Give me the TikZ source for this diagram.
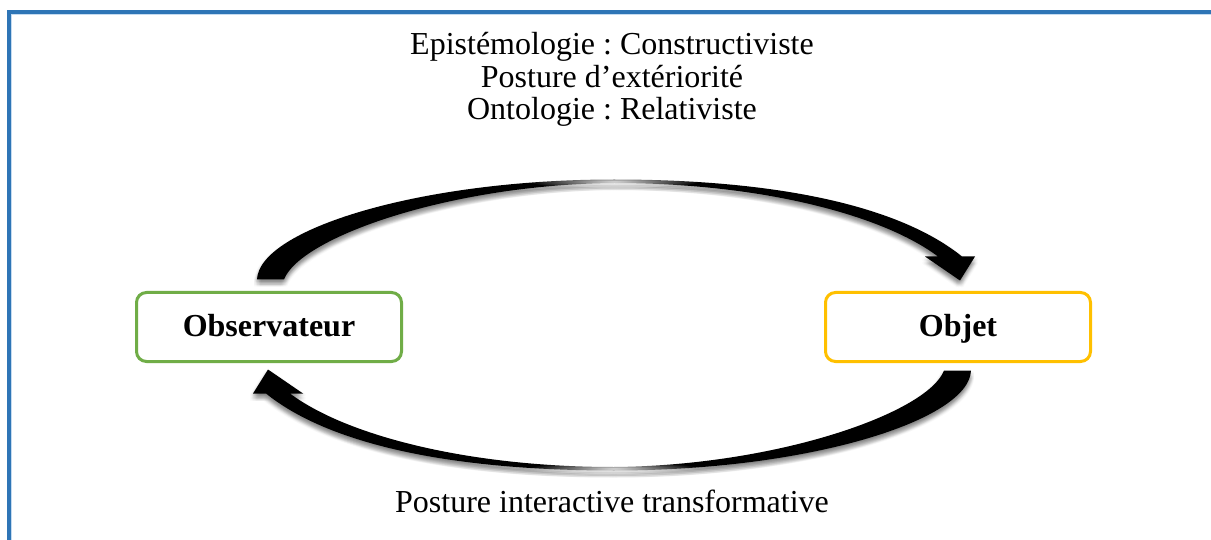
\documentclass[tikz,border=0pt]{standalone}
\usepackage{fontspec}
\setmainfont{Liberation Serif}
\usetikzlibrary{calc,fadings}
\definecolor{frameblue}{HTML}{2E75B6}
\definecolor{framelight}{HTML}{C5DBF0}
\definecolor{obsgreen}{HTML}{70AD47}
\definecolor{objorange}{HTML}{FFC000}
\tikzfading[name=midglow, inner color=transparent!0, outer color=transparent!100]
% outline of one curved arrow, tail centre at the origin
\newcommand\arrowfill[1]{%
  \fill[#1]
    (-13,0) .. controls (-11,-50) and (150,-100) .. (344,-100)
    .. controls (510,-100) and (630,-73) .. (692,-23)
    -- (705,-23) -- (690,1) -- (655,-23) -- (668,-23)
    .. controls (612,-65) and (490,-96.5) .. (344,-96.5)
    .. controls (180,-95) and (30,-42) .. (14,0) -- cycle;}
\begin{document}
\frenchspacing
\begin{tikzpicture}[x=1pt,y=-1pt,
  every node/.style={inner sep=0pt, outer sep=0pt},
  caption/.style={font=\fontsize{32}{32}\selectfont, anchor=base},
  box/.style={draw, line width=3pt, rounded corners=10pt,
    minimum width=265pt, minimum height=69pt, text height=24pt, text depth=4pt,
    font=\fontsize{32}{32}\selectfont\bfseries},
  arrowbody/.pic={
    \arrowfill{black}
    \fill[white, opacity=0.85, path fading=midglow] (344,-98) ellipse (85 and 7);
  },
  arrowshadow/.pic={
    \foreach \dx in {-3,-1.5,0,1.5,3}
      \foreach \dy in {-3,-1.5,0,1.5,3}
        {\arrowfill{black, opacity=0.025, shift={(\dx,\dy)}}}
  },
]
\useasboundingbox (0,0) rectangle (1211,540);
\fill[white] (0,0) rectangle (1211,540);
% page frame, top and left edges
\draw[frameblue, line width=4pt] (9,540) -- (9,12) -- (1211,12);
\draw[framelight, line width=1pt] (11.5,540) -- (11.5,14.5) -- (1211,14.5);

% headings
\node[caption] (epi) at (612,55) {Epistémologie : Constructiviste};
\node[caption] (post) at (612,87.5) {Posture d’extériorité};
\node[caption] (onto) at (612,120) {Ontologie : Relativiste};
\node[caption] (inter) at (612,512) {Posture interactive transformative};

% the two poles
\node[box, draw=obsgreen] (obs) at (269,327) {Observateur};
\node[box, draw=objorange] (obj) at (958,327) {Objet};

% curved arrows between the poles, with a soft shadow below
\coordinate (topstart) at ($(obs.north)+(1,-13)$);
\coordinate (botstart) at ($(obj.south)+(0,9)$);
\pic at ($(topstart)+(0,4)$) {arrowshadow};
\pic[rotate=180] at ($(botstart)+(0,4)$) {arrowshadow};
\pic at (topstart) {arrowbody};
\pic[rotate=180] at (botstart) {arrowbody};
\end{tikzpicture}
\end{document}
